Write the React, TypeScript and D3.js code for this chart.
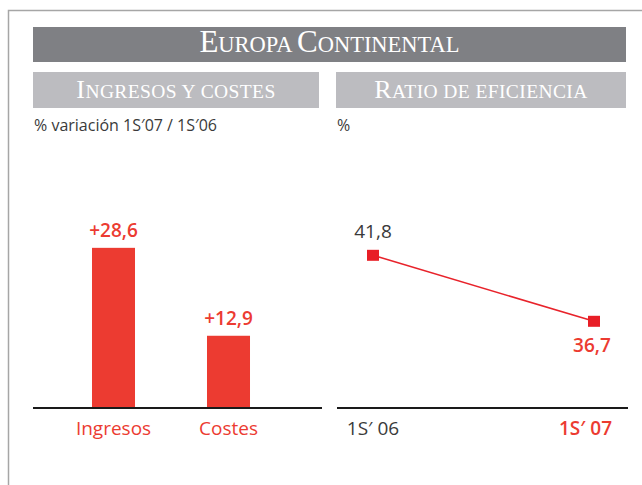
import React, { useRef, useEffect } from 'react';
import { select, scaleBand, scaleLinear, scalePoint, line } from 'd3';

// data
const barCategories = ['Ingresos', 'Costes'];
const barValues = [28.6, 12.9];
const barLabels = ['+28,6', '+12,9'];

const ratioPeriods = ['1S′ 06', '1S′ 07'];
const ratioValues = [41.8, 36.7];
const ratioLabels = ['41,8', '36,7'];

const W = 642;
const H = 485;
const RED = '#ec3b31';
const DARK = '#3a3a3a';
const sans = '"Open Sans", "Noto Sans", sans-serif';
const serif = '"Liberation Serif", "DejaVu Serif", serif';

// small caps by hand: capitals big, the rest as smaller capitals
const smallCaps = (textSel, str, big, small, spacing) => {
  const runs = [];
  for (const ch of str) {
    const isCap = ch !== ' ' && ch === ch.toUpperCase();
    const last = runs[runs.length - 1];
    if (last && last.cap === isCap) last.t += ch;
    else runs.push({ cap: isCap, t: ch });
  }
  runs.forEach(r => {
    textSel.append('tspan')
      .style('font-size', `${r.cap ? big : small}px`)
      .style('letter-spacing', `${spacing}px`)
      .text(r.t.toUpperCase());
  });
};

const App = () => {
  const svgRef = useRef(null);

  useEffect(() => {
    const svg = select(svgRef.current);
    svg.selectAll('*').remove();

    // frame
    svg.append('path')
      .attr('d', `M8.5,${H} V10.5 H${W}`)
      .attr('fill', 'none')
      .attr('stroke', '#a6a6a6')
      .attr('stroke-width', 1.5);

    // main header
    svg.append('rect')
      .attr('x', 33).attr('y', 27).attr('width', 593).attr('height', 35)
      .attr('fill', '#7f8084');
    const title = svg.append('text')
      .attr('x', 329.5).attr('y', 52)
      .attr('text-anchor', 'middle')
      .style('font-family', serif)
      .attr('fill', '#ffffff');
    smallCaps(title, 'Europa Continental', 31, 22.5, 0);

    // sub headers
    const subs = [
      { x: 33, w: 286, title: 'Ingresos y costes', note: '% variación 1S′07 / 1S′06' },
      { x: 336, w: 290, title: 'Ratio de eficiencia', note: '%' },
    ];
    subs.forEach(s => {
      svg.append('rect')
        .attr('x', s.x).attr('y', 72).attr('width', s.w).attr('height', 36)
        .attr('fill', '#bcbcc0');
      const t = svg.append('text')
        .attr('x', s.x + s.w / 2).attr('y', 98)
        .attr('text-anchor', 'middle')
        .style('font-family', serif)
        .attr('fill', '#ffffff');
      smallCaps(t, s.title, 26, 19.5, 0.4);
      svg.append('text')
        .attr('x', s.x + 1).attr('y', 131)
        .style('font-family', sans)
        .style('font-size', '16px')
        .attr('fill', DARK)
        .text(s.note);
    });

    const baseY = 408;

    // ---- bar chart
    const xBar = scaleBand()
      .domain(barCategories)
      .range([56, 286])
      .paddingInner(0.626)
      .paddingOuter(0.313);

    const yBar = scaleLinear()
      .domain([0, 30])
      .range([baseY, baseY - 30 * 5.6]);

    const bars = svg.append('g');
    bars.selectAll('rect')
      .data(barValues)
      .enter()
      .append('rect')
      .attr('x', (d, i) => xBar(barCategories[i]))
      .attr('y', d => yBar(d))
      .attr('width', xBar.bandwidth())
      .attr('height', d => yBar(0) - yBar(d))
      .attr('fill', RED);

    bars.selectAll('.val')
      .data(barValues)
      .enter()
      .append('text')
      .attr('x', (d, i) => xBar(barCategories[i]) + xBar.bandwidth() / 2)
      .attr('y', d => yBar(d) - 11)
      .attr('text-anchor', 'middle')
      .style('font-family', sans)
      .style('font-size', '19px')
      .style('font-weight', 600)
      .attr('fill', RED)
      .text((d, i) => barLabels[i]);

    bars.selectAll('.cat')
      .data(barCategories)
      .enter()
      .append('text')
      .attr('x', d => xBar(d) + xBar.bandwidth() / 2)
      .attr('y', baseY + 27)
      .attr('text-anchor', 'middle')
      .style('font-family', sans)
      .style('font-size', '19px')
      .attr('fill', RED)
      .text(d => d);

    svg.append('line')
      .attr('x1', 33).attr('x2', 322)
      .attr('y1', baseY).attr('y2', baseY)
      .attr('stroke', '#1a1a1a')
      .attr('stroke-width', 2);

    // ---- ratio line chart
    const xLine = scalePoint()
      .domain(ratioPeriods)
      .range([373, 594]);

    const yLine = scaleLinear()
      .domain([30, 45])
      .range([baseY, baseY - 15 * 12.94]);

    const pts = ratioValues.map((v, i) => ({ p: ratioPeriods[i], v, label: ratioLabels[i] }));

    const ratioLine = line()
      .x(d => xLine(d.p))
      .y(d => yLine(d.v));

    svg.append('path')
      .attr('d', ratioLine(pts))
      .attr('fill', 'none')
      .attr('stroke', '#e8232b')
      .attr('stroke-width', 1.6);

    svg.selectAll('.marker')
      .data(pts)
      .enter()
      .append('rect')
      .attr('x', d => xLine(d.p) - 6)
      .attr('y', d => yLine(d.v) - 5.5)
      .attr('width', 12)
      .attr('height', 11)
      .attr('fill', '#e81e26');

    svg.selectAll('.ptlabel')
      .data(pts)
      .enter()
      .append('text')
      .attr('x', (d, i) => xLine(d.p) - (i === 0 ? 0 : 2))
      .attr('y', (d, i) => i === 0 ? yLine(d.v) - 17 : yLine(d.v) + 31)
      .attr('text-anchor', 'middle')
      .style('font-family', sans)
      .style('font-size', '19px')
      .style('font-weight', (d, i) => i === 0 ? 400 : 600)
      .attr('fill', (d, i) => i === 0 ? DARK : RED)
      .text(d => d.label);

    svg.selectAll('.period')
      .data(ratioPeriods)
      .enter()
      .append('text')
      .attr('x', (d, i) => i === 0 ? xLine(d) : xLine(d) + 18)
      .attr('y', baseY + 27)
      .attr('text-anchor', (d, i) => i === 0 ? 'middle' : 'end')
      .style('font-family', sans)
      .style('font-size', '19px')
      .style('font-weight', (d, i) => i === 0 ? 400 : 600)
      .attr('fill', (d, i) => i === 0 ? DARK : RED)
      .text(d => d);

    svg.append('line')
      .attr('x1', 337).attr('x2', 628)
      .attr('y1', baseY).attr('y2', baseY)
      .attr('stroke', '#1a1a1a')
      .attr('stroke-width', 2);
  }, []);

  return (
    <div style={{ position: 'absolute', left: 0, top: 0, width: W, height: H, background: '#fff' }}>
      <svg ref={svgRef} width={W} height={H} style={{ display: 'block' }}></svg>
    </div>
  );
};

export default App;
